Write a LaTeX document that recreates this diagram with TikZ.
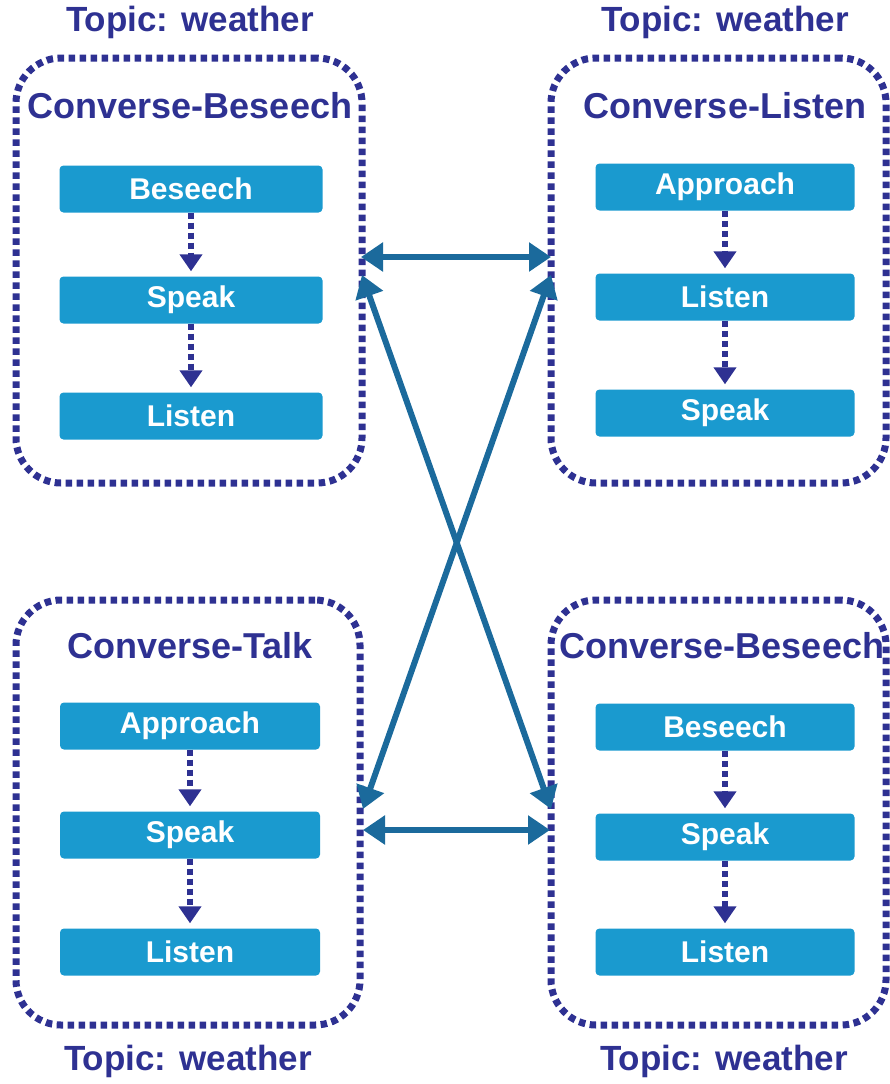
\documentclass[tikz,border=0pt]{standalone}
\usepackage{fontspec}
\setmainfont{Liberation Sans}
\usetikzlibrary{arrows.meta}
\definecolor{navy}{HTML}{2E3192}
\definecolor{boxblue}{HTML}{1A9ACF}
\definecolor{conn}{HTML}{1B6A9C}
\tikzset{
  container/.style={draw=navy, line width=7pt, dash pattern=on 6.5pt off 4.5pt, rounded corners=45pt, inner sep=0pt},
  topic/.style={text=navy, font=\fontsize{35}{40}\selectfont\bfseries, inner sep=0pt},
  ctitle/.style={text=navy, font=\fontsize{36}{40}\selectfont\bfseries, inner sep=0pt},
  stepbox/.style={fill=boxblue, rounded corners=4pt, minimum width=263pt, minimum height=47pt, text=white, font=\fontsize{30}{34}\selectfont\bfseries, inner sep=0pt},
  flow/.style={draw=navy, line width=6pt, dash pattern=on 6pt off 4pt, -{Triangle[width=22pt,length=17pt]}, shorten >=5pt},
  link/.style={draw=conn, line width=6pt, {Triangle[width=28pt,length=22pt]}-{Triangle[width=28pt,length=22pt]}}
}
\begin{document}
\begin{tikzpicture}[x=1pt,y=-1pt]
\useasboundingbox (0,0) rectangle (890,1084);
% containers
\node[container, minimum width=346pt, minimum height=425pt] (TL) at (189,270.5) {};
\node[container, minimum width=335pt, minimum height=425pt] (TR) at (718.5,270.5) {};
\node[container, minimum width=344pt, minimum height=425pt] (BL) at (188,812.5) {};
\node[container, minimum width=335pt, minimum height=425pt] (BR) at (718.5,812.5) {};
% topics
\node[topic] (t1) at (190,22) {Topic: weather};
\node[topic] (t2) at (725,22) {Topic: weather};
\node[topic] (t3) at (188,1061) {Topic: weather};
\node[topic] (t4) at (724,1061) {Topic: weather};
% titles
\node[ctitle] (c1) at (190,106) {Converse-Beseech};
\node[ctitle] (c2) at (725,106) {Converse-Listen};
\node[ctitle] (c3) at (190,646) {Converse-Talk};
\node[ctitle] (c4) at (722,646) {Converse-Beseech};
% TL boxes
\node[stepbox] (a1) at (191,189) {Beseech};
\node[stepbox] (a2) at (191,300) {Speak};
\node[stepbox] (a3) at (191,416) {Listen};
% TR boxes
\node[stepbox, minimum width=259pt] (b1) at (725,187) {Approach};
\node[stepbox, minimum width=259pt] (b2) at (725,297) {Listen};
\node[stepbox, minimum width=259pt] (b3) at (725,413) {Speak};
% BL boxes
\node[stepbox, minimum width=260pt] (d1) at (190,726) {Approach};
\node[stepbox, minimum width=260pt] (d2) at (190,835) {Speak};
\node[stepbox, minimum width=260pt] (d3) at (190,952) {Listen};
% BR boxes
\node[stepbox, minimum width=259pt] (e1) at (725,727) {Beseech};
\node[stepbox, minimum width=259pt] (e2) at (725,837) {Speak};
\node[stepbox, minimum width=259pt] (e3) at (725,952) {Listen};
% flows
\draw[flow] (a1) -- (a2);
\draw[flow] (a2) -- (a3);
\draw[flow] (b1) -- (b2);
\draw[flow] (b2) -- (b3);
\draw[flow] (d1) -- (d2);
\draw[flow] (d2) -- (d3);
\draw[flow] (e1) -- (e2);
\draw[flow] (e2) -- (e3);
% link endpoints
\coordinate (p1) at (361,257);
\coordinate (p2) at (551,257);
\coordinate (p3) at (362,275);
\coordinate (p4) at (551,275);
\coordinate (p5) at (363,809);
\coordinate (p6) at (551,809);
\coordinate (p7) at (363,830);
\coordinate (p8) at (550,830);
\draw[link] (p1) -- (p2);
\draw[link] (p3) -- (p6);
\draw[link] (p4) -- (p5);
\draw[link] (p7) -- (p8);
\end{tikzpicture}
\end{document}
